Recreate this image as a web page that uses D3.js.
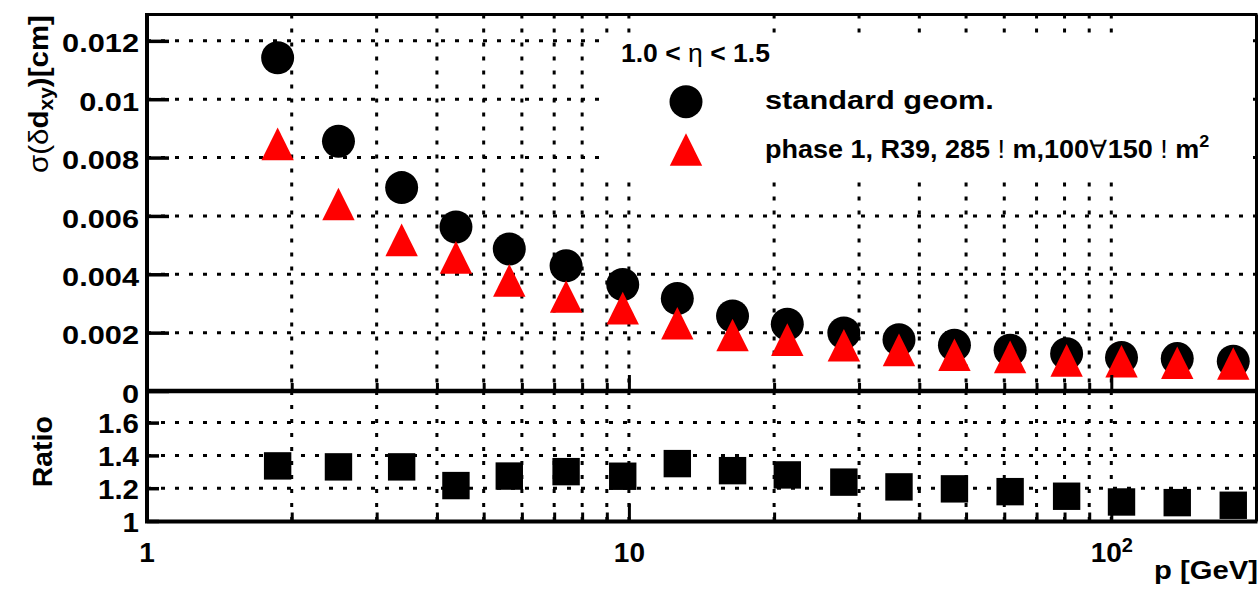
<!DOCTYPE html>
<html>
<head>
<meta charset="utf-8">
<script src="https://cdn.jsdelivr.net/npm/d3@7"></script>
<style>
  html, body { margin: 0; padding: 0; background: #fff; }
  svg { display: block; }
  text { font-family: "Liberation Sans", Arial, Helvetica, sans-serif; font-weight: bold; fill: #000; }
</style>
</head>
<body>
<svg id="chart" width="1260" height="589"></svg>
<script>
// Momentum bin centres [GeV]
const momentum = [1.87, 2.50, 3.38, 4.38, 5.65, 7.41, 9.71, 12.6, 16.4, 21.3, 27.9, 36.3, 47.3, 61.7, 80.8, 105, 137, 179];
// sigma(delta d_xy) [cm], standard geometry
const standardGeom = [0.01142, 0.00856, 0.00697, 0.00562, 0.00487, 0.00429, 0.00365, 0.00317, 0.00257, 0.00229, 0.00199, 0.00176, 0.00157, 0.00140, 0.00128, 0.00115, 0.00111, 0.00102];
// sigma(delta d_xy) [cm], phase 1 geometry
const phase1Geom = [0.00847, 0.00641, 0.00518, 0.00458, 0.00379, 0.00324, 0.00284, 0.00232, 0.00192, 0.00176, 0.00157, 0.00141, 0.00124, 0.00117, 0.00105, 0.00102, 0.00097, 0.00094];
// standard / phase 1
const ratioValues = [1.336, 1.330, 1.330, 1.216, 1.274, 1.301, 1.273, 1.350, 1.307, 1.281, 1.237, 1.208, 1.196, 1.179, 1.151, 1.116, 1.112, 1.096];

const topTicks = [0, 0.002, 0.004, 0.006, 0.008, 0.01, 0.012];
const topTickLabels = ["0", "0.002", "0.004", "0.006", "0.008", "0.01", "0.012"];
const ratioTicks = [1, 1.2, 1.4, 1.6];
const ratioTickLabels = ["1", "1.2", "1.4", "1.6"];
const xMajorTicks = [1, 10, 100];
const xMajorLabels = ["1", "10", "10|2"];
const xGridTicks = [2, 3, 4, 5, 6, 7, 8, 9, 10, 20, 30, 40, 50, 60, 70, 80, 90, 100];

const svg = d3.select("#chart");

const left = 147, right = 1256.5;
const topY0 = 14.5, topY1 = 391;
const ratY0 = 391, ratY1 = 521.5;

const x = d3.scaleLog().domain([1, 200]).range([146.5, 1256.5]);
const yTop = d3.scaleLinear().domain([0, 0.01291]).range([391, 14.3]);
const yRat = d3.scaleLinear().domain([1, 1.7927]).range([521, 391]);

// fit a text element to a given drawn width by stretching along its reading direction
function place(sel, px, py, width, rot) {
  const n = sel.node().getComputedTextLength();
  const s = width / n;
  sel.attr("transform", `translate(${px},${py})` + (rot ? " rotate(-90)" : "") + ` scale(${s},1)`);
}

const gridStyle = g => g.attr("stroke", "#000").attr("stroke-width", 3).attr("stroke-dasharray", "4 10").attr("fill", "none");

// ---------- grids ----------
const grid = svg.append("g");
// vertical grid, both panels
[[topY0, topY1], [ratY0, ratY1]].forEach(([a, b]) => {
  grid.append("g").selectAll("line").data(xGridTicks).join("line")
    .attr("x1", d => x(d)).attr("x2", d => x(d))
    .attr("y1", a).attr("y2", b)
    .call(gridStyle);
});
grid.append("g").selectAll("line").data(topTicks.slice(1)).join("line")
  .attr("x1", left).attr("x2", right)
  .attr("y1", d => yTop(d)).attr("y2", d => yTop(d))
  .call(gridStyle);
grid.append("g").selectAll("line").data(ratioTicks.slice(1)).join("line")
  .attr("x1", left).attr("x2", right)
  .attr("y1", d => yRat(d)).attr("y2", d => yRat(d))
  .call(gridStyle);

// ---------- markers ----------
const pts = momentum.map((p, i) => ({ p, s: standardGeom[i], q: phase1Geom[i], r: ratioValues[i] }));
const circR = 16.5, triH = 16.3, triW = 16.2, sqH = 13.7;

svg.append("g").selectAll("circle").data(pts).join("circle")
  .attr("cx", d => x(d.p)).attr("cy", d => yTop(d.s)).attr("r", circR).attr("fill", "#000");

const triPath = (cx, cy) => `M${cx},${cy - triH}L${cx + triW},${cy + triH}L${cx - triW},${cy + triH}Z`;
svg.append("g").selectAll("path").data(pts).join("path")
  .attr("d", d => triPath(x(d.p), yTop(d.q))).attr("fill", "#ff0000");

svg.append("g").selectAll("rect").data(pts).join("rect")
  .attr("x", d => x(d.p) - sqH).attr("y", d => yRat(d.r) - sqH)
  .attr("width", 2 * sqH).attr("height", 2 * sqH).attr("fill", "#000");

// ---------- legend ----------
const leg = svg.append("g");
leg.append("rect").attr("x", 603).attr("y", 33).attr("width", 650).attr("height", 148).attr("fill", "#fff");
leg.append("circle").attr("cx", 686).attr("cy", 101.7).attr("r", circR).attr("fill", "#000");
leg.append("path").attr("d", triPath(686, 149.5)).attr("fill", "#ff0000");

const hdr = leg.append("text").attr("font-size", 25.5);
hdr.append("tspan").text("1.0 < ");
hdr.append("tspan").attr("font-weight", "normal").text("η");
hdr.append("tspan").text(" < 1.5");
place(hdr, 621, 61.7, 149);

const e1 = leg.append("text").attr("font-size", 25.5).text("standard geom.");
place(e1, 765, 109.3, 229);

const e2 = leg.append("text").attr("font-size", 25.5);
e2.append("tspan").text("phase 1, R39, 285 ");
e2.append("tspan").attr("font-weight", "normal").text("!");
e2.append("tspan").text(" m,100");
e2.append("tspan").attr("font-weight", "normal").text("∀");
e2.append("tspan").text("150 ");
e2.append("tspan").attr("font-weight", "normal").text("!");
e2.append("tspan").text(" m");
e2.append("tspan").attr("font-size", 17).attr("dy", -11).text("2");
place(e2, 765, 158.3, 445);

// ---------- axes ----------
const axTop = svg.append("g").attr("transform", `translate(${left},0)`)
  .call(d3.axisLeft(yTop).tickValues(topTicks).tickSize(-22).tickPadding(9)
    .tickFormat((d, i) => topTickLabels[i]));
axTop.select(".domain").remove();
axTop.selectAll(".tick line").attr("stroke", "#000").attr("stroke-width", 3.5);
axTop.selectAll(".tick text").attr("font-size", 26.5).attr("font-family", null).attr("fill", "#000").attr("dy", "0.42em");
{
  const ref = axTop.selectAll(".tick text").filter((d, i) => i === 6).node().getComputedTextLength();
  const s = 77 / ref;
  axTop.selectAll(".tick text").attr("x", null).attr("text-anchor", "end")
    .attr("transform", `translate(-8,0) scale(${s},1)`);
}

const axRat = svg.append("g").attr("transform", `translate(${left},0)`)
  .call(d3.axisLeft(yRat).tickValues(ratioTicks).tickSize(-12).tickPadding(9)
    .tickFormat((d, i) => ratioTickLabels[i]));
axRat.select(".domain").remove();
axRat.selectAll(".tick line").attr("stroke", "#000").attr("stroke-width", 3.5);
axRat.selectAll(".tick text").attr("font-size", 27).attr("font-family", null).attr("fill", "#000").attr("dy", "0.38em");
{
  const ref = axRat.selectAll(".tick text").filter((d, i) => i === 3).node().getComputedTextLength();
  const s = 41 / ref;
  axRat.selectAll(".tick text").attr("x", null).attr("text-anchor", "end")
    .attr("transform", `translate(-8,0) scale(${s},1)`);
}

// x ticks on the lower edge of both panels
function xTicks(yPos, minorLen, majorLen) {
  const gMin = svg.append("g").attr("transform", `translate(0,${yPos})`)
    .call(d3.axisBottom(x).tickValues(xGridTicks.filter(d => d !== 10 && d !== 100)).tickSize(-minorLen).tickFormat(""));
  gMin.select(".domain").remove();
  gMin.selectAll(".tick line").attr("stroke", "#000").attr("stroke-width", 3);
  const gMaj = svg.append("g").attr("transform", `translate(0,${yPos})`)
    .call(d3.axisBottom(x).tickValues([10, 100]).tickSize(-majorLen).tickFormat(""));
  gMaj.select(".domain").remove();
  gMaj.selectAll(".tick line").attr("stroke", "#000").attr("stroke-width", 3);
}
xTicks(topY1, 8, 16);
xTicks(ratY1, 9, 18);

// x labels
const axX = svg.append("g").attr("transform", `translate(0,${ratY1})`)
  .call(d3.axisBottom(x).tickValues(xMajorTicks).tickSize(0).tickPadding(0).tickFormat(""));
axX.select(".domain").remove();
axX.selectAll(".tick").each(function (d, i) {
  const t = d3.select(this).select("text")
    .attr("font-size", 28).attr("font-family", null).attr("fill", "#000")
    .attr("y", 40).attr("dy", null).attr("text-anchor", "middle");
  const parts = xMajorLabels[i].split("|");
  t.append("tspan").text(parts[0]);
  if (parts[1]) t.append("tspan").attr("font-size", 20).attr("dy", -10).text(parts[1]);
});

// ---------- frames ----------
const fr = svg.append("g").attr("stroke", "#000").attr("fill", "none");
fr.append("line").attr("x1", left - 2).attr("x2", right + 1).attr("y1", topY0).attr("y2", topY0).attr("stroke-width", 3);
fr.append("line").attr("x1", left).attr("x2", left).attr("y1", topY0).attr("y2", ratY1).attr("stroke-width", 4);
fr.append("line").attr("x1", right).attr("x2", right).attr("y1", topY0).attr("y2", ratY1).attr("stroke-width", 3);
fr.append("line").attr("x1", left - 2).attr("x2", right + 1).attr("y1", topY1).attr("y2", topY1).attr("stroke-width", 4.5);
fr.append("line").attr("x1", left - 2).attr("x2", right + 1).attr("y1", ratY1).attr("y2", ratY1).attr("stroke-width", 4);

// ---------- axis titles ----------
const yTitle = svg.append("text").attr("font-size", 28);
yTitle.append("tspan").attr("font-weight", "normal").text("σ(δ");
yTitle.append("tspan").text("d");
yTitle.append("tspan").attr("font-size", 20).attr("dy", 5).text("xy");
yTitle.append("tspan").attr("dy", -5).text(")[cm]");
place(yTitle, 48, 173, 158, true);

const rTitle = svg.append("text").attr("font-size", 27).attr("text-anchor", "middle").text("Ratio");
place(rTitle, 52, 451.7, 71, true);

const xTitle = svg.append("text").attr("font-size", 26).attr("text-anchor", "end").text("p [GeV]");
place(xTitle, 1258, 579, 104);
</script>
</body>
</html>
